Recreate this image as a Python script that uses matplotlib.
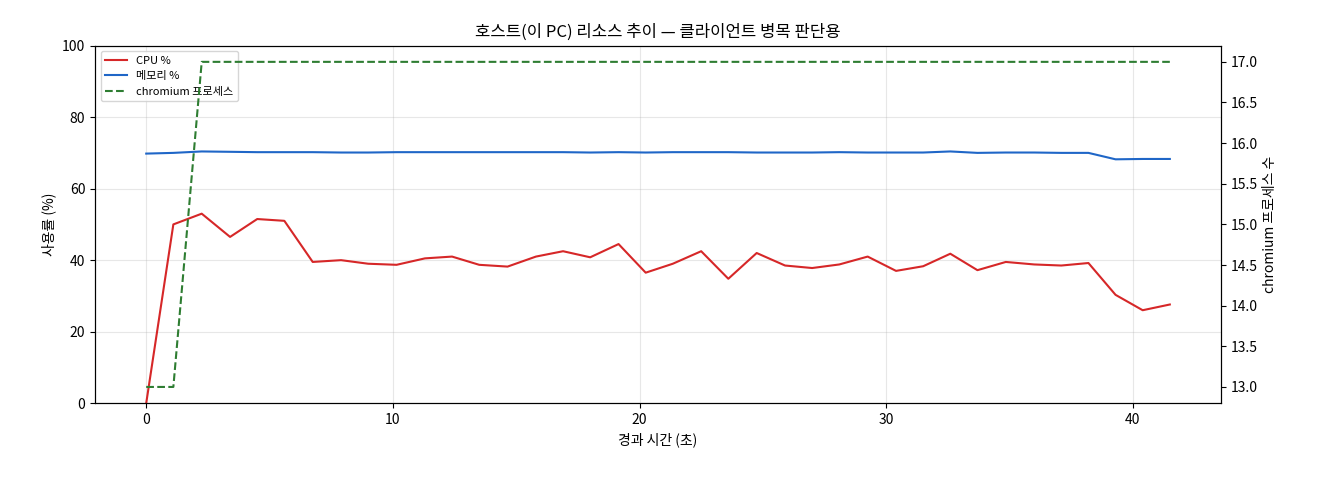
import matplotlib
matplotlib.use("Agg")
import matplotlib.pyplot as plt
import numpy as np

plt.rcParams['font.family'] = ['Noto Sans CJK KR', 'DejaVu Sans']

t = [0, 1.1, 2.25, 3.4, 4.5, 5.6, 6.75, 7.9, 9.0, 10.15, 11.3, 12.4, 13.5, 14.65, 15.8, 16.9, 18.0, 19.15, 20.25, 21.35, 22.5, 23.6, 24.75, 25.9, 27.0, 28.1, 29.25, 30.4, 31.5, 32.6, 33.7, 34.85, 36.0, 37.1, 38.2, 39.3, 40.4, 41.5]
cpu = [0, 50, 53, 46.5, 51.5, 51, 39.5, 40, 39, 38.7, 40.5, 41, 38.7, 38.2, 41, 42.5, 40.8, 44.5, 36.5, 39, 42.5, 34.8, 42, 38.5, 37.8, 38.8, 41, 37, 38.3, 41.8, 37.2, 39.5, 38.8, 38.5, 39.2, 30.3, 26, 27.6]
mem = [69.8, 70.0, 70.4, 70.3, 70.2, 70.2, 70.2, 70.1, 70.1, 70.2, 70.2, 70.2, 70.2, 70.2, 70.2, 70.2, 70.1, 70.2, 70.1, 70.2, 70.2, 70.2, 70.1, 70.1, 70.1, 70.2, 70.1, 70.1, 70.1, 70.4, 70.0, 70.1, 70.1, 70.0, 70.0, 68.2, 68.3, 68.3]
proc = [13, 13] + [17] * 36

fig, ax = plt.subplots(figsize=(13.2, 4.8), dpi=100)
fig.subplots_adjust(left=0.072, right=0.925, top=0.905, bottom=0.16)
l1, = ax.plot(t, cpu, color='#d62728', lw=1.5, label='CPU %')
l2, = ax.plot(t, mem, color='#1f66c7', lw=1.5, label='메모리 %')
ax.set_ylim(0, 100)
ax.set_ylabel('사용률 (%)')
ax.set_xlabel('경과 시간 (초)')
ax.grid(True, alpha=0.3)
ax.set_title('호스트(이 PC) 리소스 추이 — 클라이언트 병목 판단용')
ax2 = ax.twinx()
l3, = ax2.plot(t, proc, color='#2e7d32', lw=1.5, ls='--', label='chromium 프로세스')
ax2.set_ylim(12.8, 17.2)
ax2.set_ylabel('chromium 프로세스 수')
ax.legend(handles=[l1, l2, l3], loc='upper left', fontsize=8)
fig.savefig('out.png')
